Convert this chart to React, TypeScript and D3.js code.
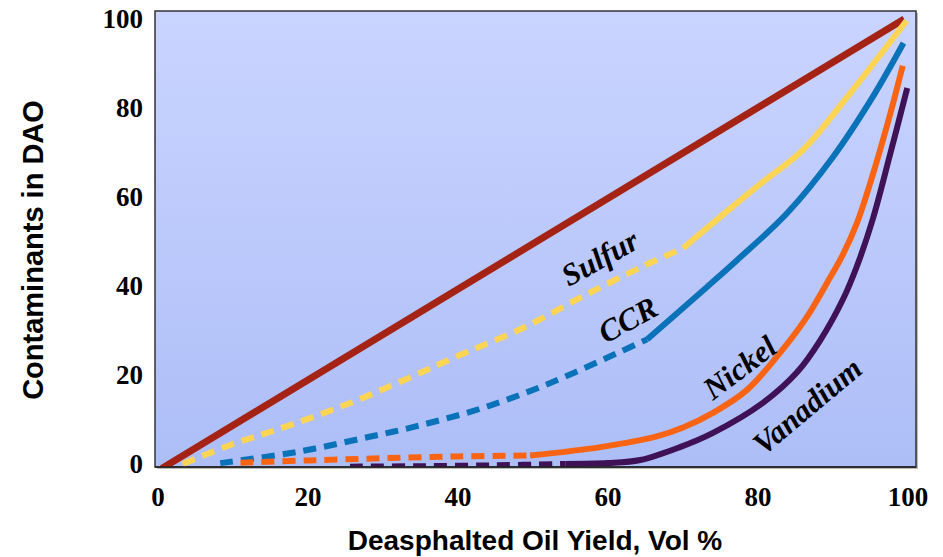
import React from "react";
import * as d3 from "d3";

const xTicks = [0, 20, 40, 60, 80, 100];
const yTicks = [0, 20, 40, 60, 80, 100];

const asphaltenes: [number, number][] = [[0.5, -1], [99.5, 100]];
const sulfurDashed: [number, number][] = [[3.3, 0], [10, 4.5], [16, 7.8], [25, 13.3], [33, 19], [40, 24.3], [48.7, 30.6], [57, 38], [65, 44.7], [70, 48.5]];
const sulfurSolid: [number, number][] = [[70, 48.5], [75, 55.6], [80.5, 63.2], [86, 70.6], [91.9, 82.5], [99.8, 99.6]];
const ccrDashed: [number, number][] = [[8.3, 0.2], [18.5, 2.7], [27.9, 6], [34.5, 8.5], [43.3, 12.6], [52.3, 18.2], [61.2, 24.9], [65.2, 28]];
const ccrSolid: [number, number][] = [[65.2, 28], [73.2, 39.8], [77.2, 45.8], [83.9, 56.4], [90, 69], [95.3, 82.5], [99.4, 94.6]];
const nickelDashed: [number, number][] = [[11, 0.3], [20, 0.8], [30, 1.3], [40, 1.7], [49.6, 1.9]];
const nickelSolid: [number, number][] = [[49.6, 1.9], [59, 3.8], [66.5, 6.2], [70, 8.2], [74, 11.5], [78.5, 16.6], [82.9, 24.9], [86.5, 33], [89.2, 40.7], [91.3, 47], [93.2, 54.2], [95.3, 65], [97.6, 78.5], [99.3, 89.5]];
const vanadiumDashed: [number, number][] = [[25.6, -0.6], [35, -0.5], [45, -0.3], [54.3, 0]];
const vanadiumSolid: [number, number][] = [[54.3, 0], [60, 0.2], [64.3, 0.9], [69.6, 3.8], [74, 7], [80.7, 13.8], [85.2, 20.6], [88.3, 27.8], [91.3, 36.9], [93.2, 44.5], [95.3, 55], [97.6, 69.5], [99.9, 84.5]];

const labels = [
  { text: "Sulfur", x: 605, y: 267, rot: -29 },
  { text: "CCR", x: 633, y: 329, rot: -29 },
  { text: "Nickel", x: 746, y: 376, rot: -37 },
  { text: "Vanadium", x: 814, y: 414, rot: -40 },
];

export default function App() {
  const x = d3.scaleLinear().domain([0, 100]).range([158, 908]);
  const y = d3.scaleLinear().domain([0, 100]).range([464, 19]);
  const line = d3.line<[number, number]>().x((d) => x(d[0])).y((d) => y(d[1])).curve(d3.curveCatmullRom.alpha(0.5));
  const serif = "'Liberation Serif', 'Times New Roman', serif";
  const sans = "'Liberation Sans', Arial, sans-serif";
  const series = [
    { d: asphaltenes, c: "#a52315", w: 7, dash: undefined as string | undefined },
    { d: sulfurDashed, c: "#fed455", w: 6, dash: "13 8" },
    { d: sulfurSolid, c: "#fed455", w: 6 },
    { d: ccrDashed, c: "#0a72b8", w: 6, dash: "13 8" },
    { d: ccrSolid, c: "#0a72b8", w: 6 },
    { d: nickelDashed, c: "#f96414", w: 6, dash: "13 8" },
    { d: nickelSolid, c: "#f96414", w: 6 },
    { d: vanadiumDashed, c: "#3f1257", w: 6, dash: "13 8" },
    { d: vanadiumSolid, c: "#3f1257", w: 6 },
  ];
  return (
    <svg width={943} height={557} style={{ position: "absolute", left: 0, top: 0, background: "#fff" }}>
      <defs>
        <linearGradient id="bg" x1="0" y1="0" x2="0" y2="1">
          <stop offset="0" stopColor="#cad4ff" />
          <stop offset="1" stopColor="#adbef7" />
        </linearGradient>
        <clipPath id="clip">
          <rect x={155} y={11} width={761} height={456} />
        </clipPath>
      </defs>
      <rect x={157} y={13} width={761} height={456} fill="#bbb" />
      <rect x={155} y={11} width={761} height={456} fill="url(#bg)" stroke="#333" strokeWidth={1.5} />
      <g clipPath="url(#clip)">
        {series.map((s, i) => (
          <path key={i} d={line(s.d) || ""} fill="none" stroke={s.c} strokeWidth={s.w} strokeDasharray={s.dash} strokeLinecap="butt" />
        ))}
      </g>
      <line x1={155} x2={916} y1={467} y2={467} stroke="#222" strokeWidth={1.5} />
      {yTicks.map((t) => (
        <text key={"y" + t} x={143} y={y(t)} dy="0.35em" textAnchor="end" fontFamily={serif} fontWeight="bold" fontSize={27} fill="#000">{t}</text>
      ))}
      {xTicks.map((t) => (
        <text key={"x" + t} x={x(t)} y={506} textAnchor="middle" fontFamily={serif} fontWeight="bold" fontSize={27} fill="#000">{t}</text>
      ))}
      {labels.map((l) => (
        <text key={l.text} x={l.x} y={l.y} textAnchor="middle" fontFamily={serif} fontWeight="bold" fontStyle="italic" fontSize={31} fill="#000" transform={`rotate(${l.rot} ${l.x} ${l.y})`}>{l.text}</text>
      ))}
      <text x={535} y={550} textAnchor="middle" fontFamily={sans} fontWeight="bold" fontSize={28} fill="#000">Deasphalted Oil Yield, Vol %</text>
      <text x={0} y={0} transform="translate(43 250) rotate(-90)" textAnchor="middle" fontFamily={sans} fontWeight="bold" fontSize={29} fill="#000">Contaminants in DAO</text>
    </svg>
  );
}
